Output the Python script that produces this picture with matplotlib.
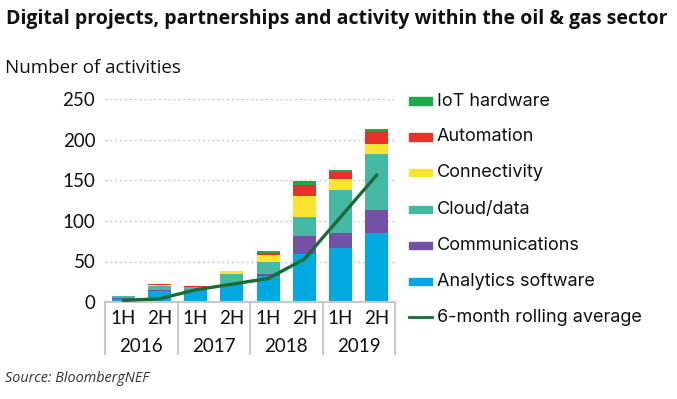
import matplotlib
matplotlib.use("Agg")
import matplotlib.pyplot as plt
import matplotlib.transforms as mtransforms
from matplotlib.patches import Rectangle
from matplotlib.lines import Line2D
import numpy as np

halves = ["1H", "2H", "1H", "2H", "1H", "2H", "1H", "2H"]
years = ["2016", "2017", "2018", "2019"]
series_names = ["Analytics software", "Communications", "Cloud/data",
                "Connectivity", "Automation", "IoT hardware"]
analytics = [4, 14, 15, 22, 32, 59, 67, 85]
communications = [1, 1, 0, 0, 3, 23, 18, 28]
cloud = [2, 5, 3, 12, 14, 23, 53, 70]
connectivity = [0, 1, 1, 4, 9, 26, 14, 12]
automation = [1, 1, 1, 0, 3, 13, 9, 16]
iot = [0, 0, 0, 0, 2, 5, 2, 3]
rolling_avg = [2, 4, 15, 22, 29, 53, 105, 157]
line_name = "6-month rolling average"
title = "Digital projects, partnerships and activity within the oil & gas sector"
ylabel = "Number of activities"
source = "Source: BloombergNEF"

colors = ["#00a9e0", "#7152a6", "#46b9a5", "#fbe331", "#e7302a", "#1fa84a"]
line_color = "#1b6b34"

W, H = 677, 399
fig = plt.figure(figsize=(W / 100, H / 100), dpi=100)

def fx(px):
    return px / W

def fy(py):
    return 1 - py / H

ax_left, ax_right = 105, 395
ax_bottom, ax_top = 302, 99.5
ax = fig.add_axes([fx(ax_left), fy(ax_bottom), (ax_right - ax_left) / W,
                   (ax_bottom - ax_top) / H])

x = np.arange(len(halves))
data = [analytics, communications, cloud, connectivity, automation, iot]
bottom = np.zeros(len(x))
for vals, c, name in zip(data, colors, series_names):
    ax.bar(x, vals, width=0.64, bottom=bottom, color=c, label=name, zorder=2)
    bottom += np.array(vals)
ax.plot(x, rolling_avg, color=line_color, lw=2.4, zorder=3,
        solid_capstyle="round")

ax.set_xlim(-0.5, len(x) - 0.5)
ax.set_ylim(0, 250)
ax.set_yticks([0, 50, 100, 150, 200, 250])
ax.yaxis.grid(True, linestyle=(0, (1.5, 2)), color="#c8c8c8", lw=1, zorder=0)
ax.set_axisbelow(True)
for s in ["top", "right", "left"]:
    ax.spines[s].set_visible(False)
ax.spines["bottom"].set_color("#c8c8c8")
ax.spines["bottom"].set_linewidth(1.5)
ax.tick_params(axis="y", length=0, pad=7, labelsize=13.5, labelcolor="#111111")
ax.tick_params(axis="x", length=0, labelbottom=False)
for lab in ax.get_yticklabels():
    lab.set_fontfamily("Lato")

trans = mtransforms.blended_transform_factory(ax.transData, ax.transAxes)
sep_bottom = (ax_bottom - 354) / (ax_bottom - ax_top)
for i in range(len(years) + 1):
    xs = -0.5 + 2 * i
    ax.plot([xs, xs], [0, sep_bottom], transform=trans, color="#c8c8c8",
            lw=1.5, clip_on=False)
row1 = (ax_bottom - 318) / (ax_bottom - ax_top)
row2 = (ax_bottom - 346) / (ax_bottom - ax_top)
for xi, h in zip(x, halves):
    ax.text(xi, row1, h, transform=trans, ha="center", va="center",
            fontsize=13.5, family="Lato", color="#111111")
for i, yv in enumerate(years):
    ax.text(2 * i + 0.5, row2, yv, transform=trans, ha="center", va="center",
            fontsize=13.5, family="Lato", color="#111111")

fig.text(fx(6), fy(19), title, fontsize=14, fontweight="bold",
         family="Open Sans", ha="left", va="center", color="#111111")
fig.text(fx(5), fy(68), ylabel, fontsize=13.5, family="Open Sans",
         ha="left", va="center", color="#111111")
fig.text(fx(5), fy(378), source, fontsize=10.4, style="italic",
         family="Open Sans", ha="left", va="center", color="#333333")

# legend
rows = [101, 137, 173, 209, 245, 281, 317]
order = list(range(len(series_names)))[::-1]
for r, idx in zip(rows, order):
    fig.patches.append(Rectangle((fx(409), fy(r + 3.5)), 23 / W, 7 / H,
                                 transform=fig.transFigure,
                                 color=colors[idx]))
    fig.text(fx(437), fy(r), series_names[idx], fontsize=13, family="Inter",
             ha="left", va="center", color="#111111")
fig.lines.append(Line2D([fx(409), fx(432)], [fy(rows[-1])] * 2,
                        transform=fig.transFigure, color=line_color, lw=2))
fig.text(fx(437), fy(rows[-1]), line_name, fontsize=13, family="Inter",
         ha="left", va="center", color="#111111")

fig.savefig("out.png", dpi=100)
